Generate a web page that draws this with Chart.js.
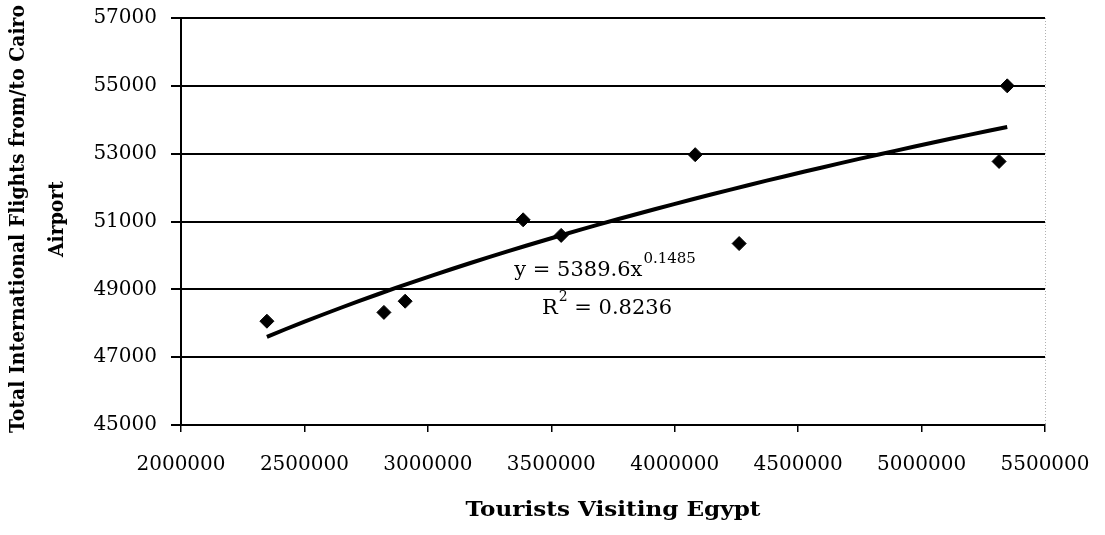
<!DOCTYPE html>
<html>
<head>
<meta charset="utf-8">
<script src="https://cdn.jsdelivr.net/npm/chart.js@4/dist/chart.umd.min.js"></script>
<style>
  body { margin: 0; background: #fff; }
</style>
</head>
<body>
<canvas id="chart" width="1105" height="535"></canvas>
<script>
// tourists visiting Egypt vs total international flights at Cairo airport
const tourists = [2348000, 2822000, 2908000, 3386000, 3540000, 4083000, 4261000, 5314000, 5347000];
const flights = [48060, 48320, 48650, 51050, 50590, 52970, 50350, 52770, 55000];

const xTicks = [2000000, 2500000, 3000000, 3500000, 4000000, 4500000, 5000000, 5500000];
const yTicks = [45000, 47000, 49000, 51000, 53000, 55000, 57000];

// power trendline as printed on the chart: y = a * x^b
const trendA = 5389.6;
const trendB = 0.1485;
const trendR2 = '0.8236';

const xTitle = 'Tourists Visiting Egypt';
const yTitle = ['Total International Flights from/to Cairo', 'Airport'];

const SERIF = '"DejaVu Serif", "Liberation Serif", serif';

// sample the fitted curve between the smallest and largest x
function trendPoints() {
  const lo = Math.min(...tourists), hi = Math.max(...tourists);
  const pts = [];
  const n = 40;
  for (let i = 0; i <= n; i++) {
    const x = lo + (hi - lo) * i / n;
    pts.push({ x: x, y: trendA * Math.pow(x, trendB) });
  }
  return pts;
}

// draw text centred at (0,0) squeezed/stretched to a given width (the scan is wide)
function fitText(ctx, text, width) {
  const w = ctx.measureText(text).width;
  ctx.save();
  ctx.scale(width / w, 1);
  ctx.fillText(text, 0, 0);
  ctx.restore();
}

// titles, equation text and the dotted right border
const extras = {
  id: 'extras',
  afterDraw(chart) {
    const ctx = chart.ctx;
    const area = chart.chartArea;
    const xs = chart.scales.x, ys = chart.scales.y;
    ctx.save();

    // dotted right edge of the plot
    ctx.strokeStyle = '#b0b0b0';
    ctx.lineWidth = 1;
    ctx.setLineDash([1, 2]);
    ctx.beginPath();
    ctx.moveTo(area.right + 0.5, area.top);
    ctx.lineTo(area.right + 0.5, area.bottom);
    ctx.stroke();
    ctx.setLineDash([]);

    ctx.fillStyle = '#000';

    // x axis title
    ctx.font = 'bold 20px ' + SERIF;
    ctx.textAlign = 'center';
    ctx.textBaseline = 'middle';
    ctx.save();
    ctx.translate((area.left + area.right) / 2, 511);
    fitText(ctx, xTitle, 295);
    ctx.restore();

    // y axis title, two lines rotated
    const midY = 219;
    const yLines = [[19, 428], [58, 76]];
    yLines.forEach(([cx, len], i) => {
      ctx.save();
      ctx.translate(cx, midY);
      ctx.rotate(-Math.PI / 2);
      fitText(ctx, yTitle[i], len);
      ctx.restore();
    });

    // equation and R squared
    ctx.textAlign = 'left';
    ctx.textBaseline = 'alphabetic';
    let ex = xs.getPixelForValue(3350000);
    let ey = ys.getPixelForValue(49393);
    ctx.font = '21px ' + SERIF;
    const main = 'y = ' + trendA + 'x';
    ctx.fillText(main, ex, ey);
    ex += ctx.measureText(main).width;
    ctx.font = '15px ' + SERIF;
    ctx.fillText(String(trendB), ex + 1, ey - 13);

    let rx = xs.getPixelForValue(3462000);
    let ry = ys.getPixelForValue(48272);
    ctx.font = '21px ' + SERIF;
    ctx.fillText('R', rx, ry);
    rx += ctx.measureText('R').width;
    ctx.font = '14px ' + SERIF;
    ctx.fillText('2', rx + 1, ry - 13);
    rx += ctx.measureText('2').width + 1;
    ctx.font = '21px ' + SERIF;
    ctx.fillText(' = ' + trendR2, rx, ry);

    ctx.restore();
  }
};

new Chart(document.getElementById('chart'), {
  type: 'scatter',
  data: {
    datasets: [
      {
        label: 'Flights',
        data: tourists.map((x, i) => ({ x: x, y: flights[i] })),
        pointStyle: 'rectRot',
        pointRadius: 7,
        backgroundColor: '#000',
        borderColor: '#000',
        borderWidth: 1
      },
      {
        label: 'Power trend',
        type: 'line',
        data: trendPoints(),
        showLine: true,
        pointRadius: 0,
        borderColor: '#000',
        borderWidth: 4,
        tension: 0,
        fill: false
      }
    ]
  },
  options: {
    responsive: false,
    animation: false,
    layout: { padding: { left: 0, top: 18, right: 60, bottom: 0 } },
    plugins: { legend: { display: false }, tooltip: { enabled: false } },
    scales: {
      x: {
        type: 'linear',
        min: xTicks[0],
        max: xTicks[xTicks.length - 1],
        afterBuildTicks: s => { s.ticks = xTicks.map(v => ({ value: v })); },
        afterFit: s => { s.height = 110; s.paddingLeft = 0; s.paddingRight = 0; },
        ticks: {
          color: '#000',
          font: { family: SERIF, size: 20 },
          padding: 21,
          maxRotation: 0,
          autoSkip: false,
          callback: v => String(v)
        },
        grid: {
          drawOnChartArea: false,
          drawTicks: true,
          tickLength: 7,
          color: '#000',
          lineWidth: 1.5
        },
        border: { display: true, color: '#000', width: 2 }
      },
      y: {
        type: 'linear',
        min: yTicks[0],
        max: yTicks[yTicks.length - 1],
        afterBuildTicks: s => { s.ticks = yTicks.map(v => ({ value: v })); },
        afterFit: s => { s.width = 181; s.paddingTop = 0; s.paddingBottom = 0; },
        ticks: {
          color: '#000',
          font: { family: SERIF, size: 20 },
          padding: 14,
          autoSkip: false,
          callback: v => String(v)
        },
        grid: {
          color: '#000',
          lineWidth: 2,
          drawTicks: true,
          tickLength: 10
        },
        border: { display: true, color: '#000', width: 2 }
      }
    }
  },
  plugins: [extras]
});
</script>
</body>
</html>
